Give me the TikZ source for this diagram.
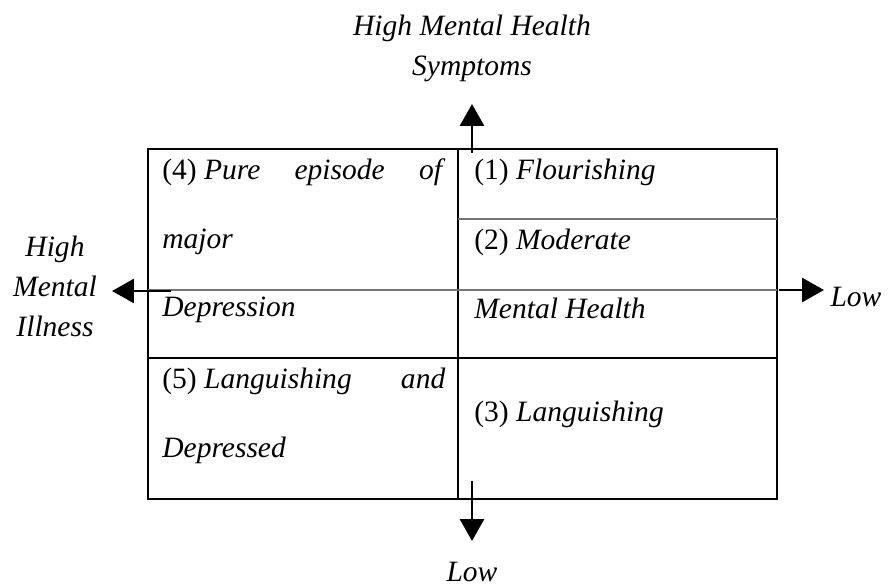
\documentclass[tikz,border=0pt]{standalone}
\usepackage{fontspec}
\setmainfont{Liberation Serif}
\usepackage{xcolor}
\usetikzlibrary{shapes,arrows.meta,positioning}

\begin{document}
\begin{tikzpicture}[x=0.02cm, y=-0.02cm,
    cell/.style={anchor=base west, inner sep=0pt, text width=283*0.02cm, align=justify,
        font=\fontsize{16.8}{38.9}\selectfont},
    axislabel/.style={inner sep=0pt, align=center, font=\fontsize{16.8}{22.8}\selectfont\itshape},
    axisarrow/.style={line width=1.6pt, -{Triangle[length=0.44cm, width=0.48cm]}},
    frame/.style={line width=1.3pt},
    divider/.style={line width=0.8pt, black!55}]
    \useasboundingbox (0,0) rectangle (896,587);

    % outer box and quadrants
    \coordinate (nw) at (148,149);
    \coordinate (se) at (777,499);
    \coordinate (top) at (458,149);
    \coordinate (bottom) at (458,499);
    \draw [frame] (nw) rectangle (se);
    \draw [frame] (top) -- (bottom);
    \draw [frame] (148,358) -- (777,358);
    \draw [divider] (148,290) -- (777,290);
    \draw [divider] (458,219) -- (777,219);

    % cell texts
    \node (pure) [cell] at (162,180)
        {\mbox{(4) \textit{Pure}} \textit{episode of}\linebreak\textit{major}\newline\textit{Depression}};
    \node (flourish) [cell] at (474,180) {(1) \textit{Flourishing}};
    \node (moderate) [cell] at (474,250) {(2) \textit{Moderate}\newline\textit{Mental Health}};
    \node (langdep) [cell] at (162,389)
        {\mbox{(5) \textit{Languishing}} \textit{and}\linebreak\textit{Depressed}};
    \node (languish) [cell] at (474,421) {(3) \textit{Languishing}};

    % axis labels
    \node (symptoms) [axislabel] at (472,48) {High Mental Health\\Symptoms};
    \node (illness) [axislabel] at (55,286) {High\\Mental\\Illness};
    \node (lowright) [axislabel] at (856,297) {Low};
    \node (lowdown) [axislabel] at (472,572) {Low};

    % axis arrows
    \coordinate (upS) at (472,153);
    \coordinate (upE) at (472,104);
    \coordinate (leftS) at (171,291);
    \coordinate (leftE) at (112,291);
    \coordinate (rightS) at (779,290);
    \coordinate (rightE) at (824,290);
    \coordinate (downS) at (472,481);
    \coordinate (downE) at (472,541);
    \draw [axisarrow] (upS) -- (upE);
    \draw [axisarrow] (leftS) -- (leftE);
    \draw [axisarrow] (rightS) -- (rightE);
    \draw [axisarrow] (downS) -- (downE);
\end{tikzpicture}
\end{document}
